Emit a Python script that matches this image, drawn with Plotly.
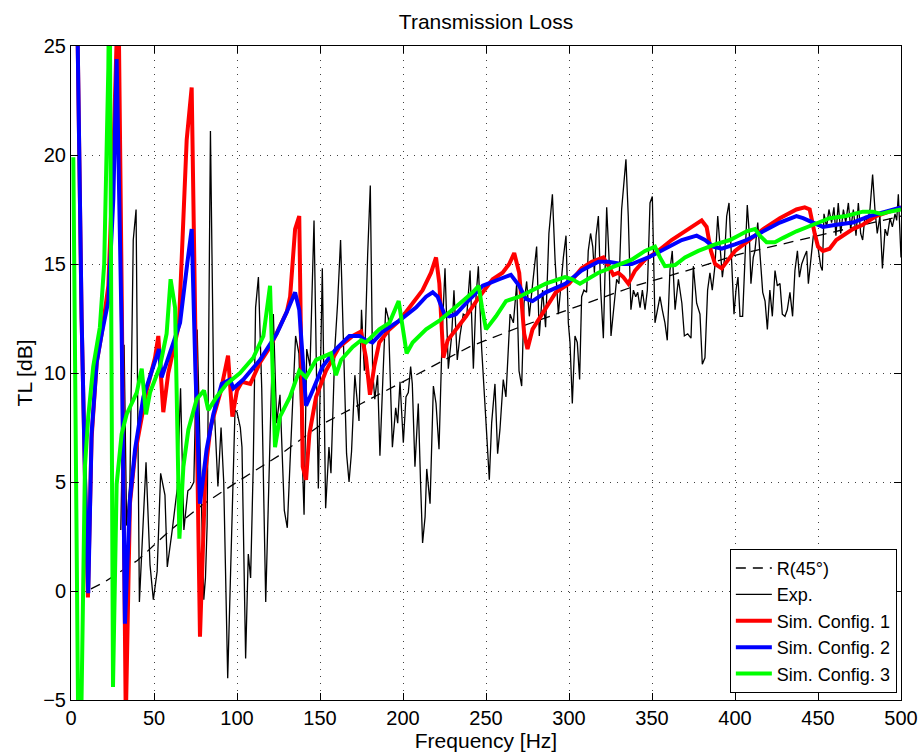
import plotly.graph_objects as go

# ---- Data ----
# R(45°) reference curve
f_r45 = [12, 20, 40, 60, 80, 100, 125, 150, 175, 200, 240, 270, 300, 340, 380, 400, 450, 500]
tl_r45 = [0.1, 0.4, 1.4, 2.8, 4.0, 5.0, 6.2, 7.6, 8.6, 9.6, 11.2, 12.1, 12.9, 14.0, 14.9, 15.4, 16.3, 17.2]

# Experimental curve
f_exp = [30, 32, 33.5, 35.5, 37.5, 39.2, 41.2, 45.2, 47.6, 49.6, 51.9, 54, 56.6, 58, 61, 64, 66, 68, 70.4, 72, 74,
         76, 80, 81, 82, 84, 86, 88.5, 90.4, 92, 94.4, 96.8, 98.8, 100, 102, 103, 105.2, 106.8, 108.2, 109.8,
         111.2, 112.9, 114.9, 117.3, 119.5, 121.9, 123.9, 125.9, 128.5, 130.3, 131.9, 135.3, 137.3, 140.4, 142,
         144, 146.4, 149, 151.4, 153.4, 155.4, 156.6, 159, 160.6, 162.4, 164.3, 166, 167.5, 169, 171, 173.5, 175,
         176.7, 178.7, 180.3, 181.7, 183, 184.7, 186.1, 187.8, 189.6, 191.2, 193.6, 195.6, 196.8, 198.2, 200.2,
         201.8, 203.2, 204.6, 205.6, 207.2, 209.2, 210.6, 211.8, 213.3, 214.3, 216.3, 218.3, 219.9, 221.7, 223.7,
         225.3, 227.3, 229.3, 230.7, 232.7, 234.3, 236.3, 238.4, 240.4, 242.4, 244, 245.4, 247.4, 249.8, 252,
         253.4, 255.4, 257, 258.4, 260.4, 262, 264.5, 266.5, 268.5, 269.9, 271.5, 272.9, 274.5, 276.1, 278.1,
         280.5, 282.1, 284.1, 285.9, 287.9, 290, 291.6, 293.6, 295.2, 296.6, 298.2, 299.6, 300.6, 302, 303.6,
         305, 306.4, 307.6, 309, 310.6, 311.6, 313, 314.3, 315.3, 316.3, 317.7, 319.1, 320.7, 322.7, 324.1,
         325.3, 326.7, 328.7, 330.1, 331.7, 334.3, 335.7, 337.3, 338.8, 340.2, 341.4, 342.8, 344.2, 345.8,
         347.2, 348.8, 350.2, 351.8, 353.4, 354.8, 356.2, 357.8, 359.2, 360.8, 362.2, 363.9, 365.9, 368, 369.5,
         371.5, 373.5, 374.9, 376.9, 378.9, 380.3, 381.9, 383.5, 384.9, 386.3, 387.9, 389.6, 391, 392.4, 393.6,
         395, 396.4, 398, 399.4, 400.6, 401.8, 403, 404.6, 406, 407.4, 408.6, 409.6, 411, 412, 413.7, 415,
         416.7, 418.1, 419.5, 421, 422.5, 424.1, 425.5, 427.1, 428.5, 430.1, 431.5, 433.1, 434.7, 436.1, 437.6,
         438.8, 440.2, 441.6, 443.2, 444.2, 445.6, 447.2, 448.8, 450.2, 451.6, 452.6, 453.6, 455.2, 456.6,
         458.2, 459.6, 460.8, 462.2, 463.7, 465.3, 466.7, 468.3, 469.7, 471.3, 472.9, 474.3, 475.7, 476.9,
         478.3, 479.7, 481.3, 482.9, 484.3, 485.7, 487.3, 488.8, 490.4, 491.8, 493.4, 494.8, 496.4, 497.4,
         498.4, 499.4, 500]
tl_exp = [2.8, 11.3, 3.0, 5.0, 16.1, 17.5, -0.5, 5.9, 1.2, -0.4, 0.9, 5.4, 4.4, 1.1, 2.8, 4.7, 9.3, 2.8, 4.6, 4.7, 5.0,
          12.0, -0.4, 0.6, 3.0, 21.1, 8.9, 4.8, 7.5, 5.0, -4.0, 2.9, 8.3, 8.2, 7.5, 6.6, -3.1, 1.7, 0.6, 5.8,
          13.0, 14.4, 9.3, -0.5, 5.8, 12.7, 7.7, 9.0, 3.7, 2.9, 5.8, 11.7, 10.9, 3.5, 11.1,
          10.3, 17.0, 4.7, 14.8, 3.8, 6.6, 5.4, 11.2, 13.2, 16.1, 10.6, 6.3, 5.0, 6.4, 9.9, 7.8, 12.9,
          10.1, 15.4, 18.6, 10.1, 8.8, 9.9, 6.2, 9.6, 13.0, 12.5, 6.6, 8.4, 7.7, 9.6, 6.8,
          8.9, 9.1, 10.3, 9.5, 5.7, 8.6, 4.9, 2.2, 3.4, 5.6, 4.0, 9.4, 8.6, 6.5, 12.0,
          14.8, 10.2, 11.7, 13.8, 10.6, 11.7, 12.7, 12.6, 14.7, 10.2, 13.5, 14.9, 11.1, 8.0, 5.1,
          7.7, 9.5, 6.3, 7.4, 9.7, 8.9, 12.7, 12.3, 14.1, 10.1, 9.4, 13.2, 14.2, 12.6, 14.1,
          15.8, 11.7, 13.8, 12.1, 16.4, 18.2, 15.2, 12.7, 14.1, 15.3, 16.3, 12.3, 11.4, 8.6, 11.7,
          11.4, 9.7, 13.5, 13.8, 13.7, 15.6, 16.4, 15.8, 14.6, 16.3, 17.2, 13.8, 11.6, 17.6, 15.3,
          11.7, 12.7, 14.3, 14.1, 17.5, 19.8, 17.2, 12.9, 13.8, 13.5, 13.7, 13.0, 13.8, 12.9,
          13.8, 17.8, 18.1, 12.3, 13.0, 13.5, 12.9, 12.3, 11.5, 14.7, 15.6, 12.9, 14.3, 13.2, 11.7,
          11.8, 11.6, 14.9, 13.2, 12.7, 10.4, 10.7, 13.8, 14.6, 13.8, 14.9, 17.2, 15.6, 14.4, 15.2,
          17.2, 17.8, 15.4, 12.7, 13.8, 14.4, 12.6, 12.6, 15.2, 17.7, 16.4, 14.1, 15.3, 15.6, 16.9, 15.6,
          13.7, 13.3, 12.0, 13.8, 12.6, 14.7, 14.0, 14.1, 12.7, 12.6, 12.9, 13.7, 12.6, 14.7, 15.6,
          14.4, 15.0, 15.3, 15.6, 14.1, 15.0, 16.3, 16.4, 15.6, 14.9, 14.7, 17.3, 16.7, 17.5,
          16.9, 17.6, 16.3, 17.8, 16.4, 17.5, 16.9, 17.8, 16.6, 17.5, 16.3, 17.8, 16.4, 16.1,
          17.2, 16.9, 17.5, 19.1, 17.5, 16.4, 17.2, 14.8, 16.6, 16.3, 17.1, 16.7, 17.3, 17.0,
          18.2, 16.6, 15.3]

# Simulation configuration 1
f_sim1 = [3.5, 4.5, 6.4, 8.5, 10.2, 12.4, 15.5, 18.5, 22.5, 25.5, 27.5, 28.5, 30.5, 33.0, 35.5, 38.6, 45.6, 50.6,
          52.6, 55.6, 58.6, 65.0, 69.7, 72.7, 77.7, 79.0, 81.0, 84.0, 90.0, 94.6, 97.2, 100.0, 103.0, 108.0,
          114.0, 120.0, 124.0, 130.0, 132.0, 135.0, 137.5, 139.6, 141.6, 143.6, 147.6, 153.6, 161.6, 169.7,
          174.7, 177.7, 180.1, 182.7, 185.7, 191.8, 197.8, 205.8, 211.8, 216.9, 219.9, 221.9, 224.3, 226.9,
          231.9, 238.0, 246.0, 254.0, 260.0, 264.0, 267.0, 270.0, 273.0, 275.0, 278.0, 284.0, 292.0, 300.0,
          307.6, 313.7, 320.7, 324.7, 326.7, 329.7, 332.7, 335.7, 339.8, 345.8, 353.8, 361.8, 369.9, 376.9,
          379.9, 382.9, 385.5, 388.0, 392.0, 396.0, 400.0, 407.0, 417.0, 427.0, 437.0, 442.0, 445.0, 448.0,
          450.0, 453.0, 457.0, 461.0, 465.0, 471.0, 477.0, 485.0, 493.0, 500.0]
tl_sim1 = [28, 22, 12.5, 5, -0.3, 7.0, 10.5, 11.8, 14.0, 20, 26, 28, 14, -6, 4.0, 6.3, 9.2, 10.7,
           11.7, 8.2, 10.0, 12.2, 20.7, 23.1, -2.1, 1.3, 5.5, 7.5, 9.1, 10.8, 8.0, 9.2, 9.6, 9.5,
           10.5, 11.2, 11.8, 12.8, 13.5, 16.6, 17.2, 5.7, 5.1, 7.2, 8.9, 10.1, 11.2, 11.7,
           11.9, 10.7, 9.0, 10.3, 11.4, 12.0, 12.4, 13.2, 13.8, 14.6, 15.3, 14.1, 10.7, 11.5,
           12.0, 12.6, 13.5, 14.3, 14.6, 15.0, 15.5, 14.6, 11.8, 11.1, 12.0, 12.7, 13.7, 14.1,
           14.8, 15.1, 15.3, 14.8, 14.5, 14.6, 14.4, 14.1, 14.7, 15.2, 15.6, 16.1, 16.5, 16.9,
           17.0, 16.7, 15.6, 15.0, 14.8, 15.2, 15.6, 16.0, 16.6, 17.1, 17.5, 17.6, 17.5, 16.4,
           15.8, 15.6, 15.7, 16.1, 16.3, 16.6, 16.8, 17.2, 17.4, 17.6]

# Simulation configuration 2
f_sim2 = [3.5, 4.5, 6.4, 8.5, 10.4, 12.4, 15.5, 18.5, 22.5, 25.5, 27.5, 30.5, 32.5, 35.5, 38.6, 43.6, 49.6, 53.0,
          54.6, 59.4, 65.7, 70.0, 72.7, 75.0, 77.7, 81.7, 85.7, 90.8, 95.8, 97.8, 103.8, 113.9, 123.9, 130.0,
          135.0, 137.5, 141.6, 145.6, 151.6, 159.6, 167.7, 173.7, 177.7, 181.7, 187.8, 197.8, 207.8, 213.9,
          217.9, 220.9, 224.9, 227.9, 231.9, 238.0, 248.0, 258.0, 265.0, 270.0, 274.0, 278.0, 286.0, 298.0,
          307.6, 317.7, 323.7, 331.7, 337.8, 347.8, 357.8, 367.9, 376.9, 381.9, 386.9, 392.0, 400.0, 407.0,
          417.0, 427.0, 437.0, 441.0, 447.0, 453.0, 461.0, 471.0, 481.0, 491.0, 500.0]
tl_sim2 = [28, 22, 12.5, 5, -0.1, 7.2, 10.5, 11.8, 13.3, 18, 24.4, 12, -1.5, 4.2, 6.5, 8.9, 10.3, 11.1,
           9.8, 10.9, 12.3, 15.0, 16.6, 10.0, 4.0, 6.5, 8.1, 9.5, 9.7, 9.3, 9.7, 10.6, 11.8, 12.8,
           13.7, 12.9, 8.5, 9.2, 10.3, 11.1, 11.7, 11.7, 11.5, 11.4, 11.9, 12.4, 13.0, 13.5,
           13.7, 13.5, 12.7, 12.6, 12.7, 13.2, 14.0, 14.3, 14.5, 14.0, 13.4, 13.3, 13.7, 14.1,
           14.7, 15.1, 15.1, 15.0, 15.0, 15.3, 15.7, 16.1, 16.3, 16.1, 15.8, 15.7, 15.9, 16.1,
           16.5, 16.9, 17.2, 17.1, 16.9, 16.7, 16.8, 16.9, 17.2, 17.4, 17.6]

# Simulation configuration 3
f_sim3 = [1.4, 5.0, 8.4, 10.4, 13.4, 17.4, 20.0, 22.5, 23.2, 25.3, 27.5, 30.5, 33.5, 39.6, 42.6, 45.2, 47.6, 53.6,
          57.6, 60.0, 62.7, 65.3, 67.7, 70.7, 75.7, 80.1, 82.7, 87.7, 93.8, 101.8, 109.8, 115.9, 119.9, 122.9,
          125.9, 131.9, 137.5, 141.6, 147.6, 156.6, 159.6, 162.7, 169.7, 174.7, 177.7, 185.7, 191.8, 197.4,
          199.8, 202.2, 205.8, 213.9, 221.9, 230.0, 236.0, 242.0, 245.6, 247.6, 250.0, 256.0, 262.0, 270.0,
          278.0, 286.0, 297.6, 302.0, 306.6, 317.7, 327.7, 337.8, 345.8, 351.8, 354.8, 357.8, 363.9, 369.9,
          377.9, 388.0, 397.0, 407.0, 412.0, 415.0, 419.0, 424.0, 429.0, 437.0, 447.0, 457.0, 467.0, 477.0,
          483.0, 488.0, 493.0, 500.0]
tl_sim3 = [19.9, -12, 5.7, 8.0, 10.3, 12.1, 15.0, 24, 30, -4.4, 4.9, 7.2, 8.1, 9.1, 10.2, 8.1, 9.1, 10.3,
           11.8, 14.3, 13.0, 2.4, 5.7, 7.4, 8.8, 9.2, 8.3, 8.9, 9.5, 10.0, 10.7, 11.7, 14.0, 6.6,
           8.0, 8.9, 10.1, 9.8, 10.6, 10.9, 9.9, 10.6, 11.2, 11.5, 11.4, 12.0, 12.3, 13.3,
           12.1, 10.9, 11.4, 12.0, 12.4, 12.9, 13.3, 13.7, 14.0, 13.0, 12.0, 12.6, 13.3, 13.5,
           13.8, 14.1, 14.4, 14.3, 14.1, 14.6, 14.9, 15.2, 15.6, 15.8, 15.3, 14.9, 14.95, 15.3,
           15.6, 15.9, 16.1, 16.5, 16.6, 16.3, 16.0, 16.0, 16.2, 16.5, 16.8, 17.1, 17.2, 17.4,
           17.4, 17.3, 17.4, 17.5]

x_ticks = [0, 50, 100, 150, 200, 250, 300, 350, 400, 450, 500]
y_ticks = [-5, 0, 5, 10, 15, 20, 25]

FONT = "Liberation Sans, Arial, Helvetica, sans-serif"

fig = go.Figure()
fig.add_trace(go.Scatter(x=f_r45, y=tl_r45, mode="lines", name="R(45°)",
                         line=dict(color="black", width=1.3, dash="10px,7px")))
fig.add_trace(go.Scatter(x=f_exp, y=tl_exp, mode="lines", name="Exp.",
                         line=dict(color="black", width=1.3)))
fig.add_trace(go.Scatter(x=f_sim1, y=tl_sim1, mode="lines", name="Sim. Config. 1",
                         line=dict(color="#FF0000", width=4)))
fig.add_trace(go.Scatter(x=f_sim2, y=tl_sim2, mode="lines", name="Sim. Config. 2",
                         line=dict(color="#0000FF", width=4)))
fig.add_trace(go.Scatter(x=f_sim3, y=tl_sim3, mode="lines", name="Sim. Config. 3",
                         line=dict(color="#00FF00", width=4)))

axis_common = dict(
    showline=True, linecolor="black", linewidth=1, mirror="ticks",
    ticks="inside", ticklen=7, tickcolor="black", tickwidth=1,
    showgrid=True, gridcolor="rgba(0,0,0,0.75)", gridwidth=1, griddash="1px,6px",
    zeroline=False, automargin=False,
    tickfont=dict(family=FONT, size=20, color="black"),
)

fig.update_layout(
    width=921, height=755,
    margin=dict(l=71, r=20, t=46, b=55),
    paper_bgcolor="white", plot_bgcolor="white",
    title=dict(text="Transmission Loss", x=0.5, xref="paper", y=0.971, yref="container",
               xanchor="center", yanchor="middle",
               font=dict(family=FONT, size=21, color="black")),
    xaxis=dict(range=[0, 500], tickvals=x_ticks, ticktext=[str(t) for t in x_ticks],
               title=dict(text="Frequency [Hz]", font=dict(family=FONT, size=21, color="black"), standoff=2),
               **axis_common),
    yaxis=dict(range=[-5, 25], tickvals=y_ticks,
               ticktext=[("\u2212" + str(-t)) if t < 0 else str(t) for t in y_ticks],
               title=dict(text="TL [dB]", font=dict(family=FONT, size=21, color="black"), standoff=4),
               **axis_common),
    legend=dict(x=0.995, y=0.011, xanchor="right", yanchor="bottom",
                bgcolor="white", bordercolor="black", borderwidth=1,
                font=dict(family=FONT, size=18, color="black"),
                itemwidth=36, tracegroupgap=0),
    showlegend=True,
)

fig.write_html("out.html")
